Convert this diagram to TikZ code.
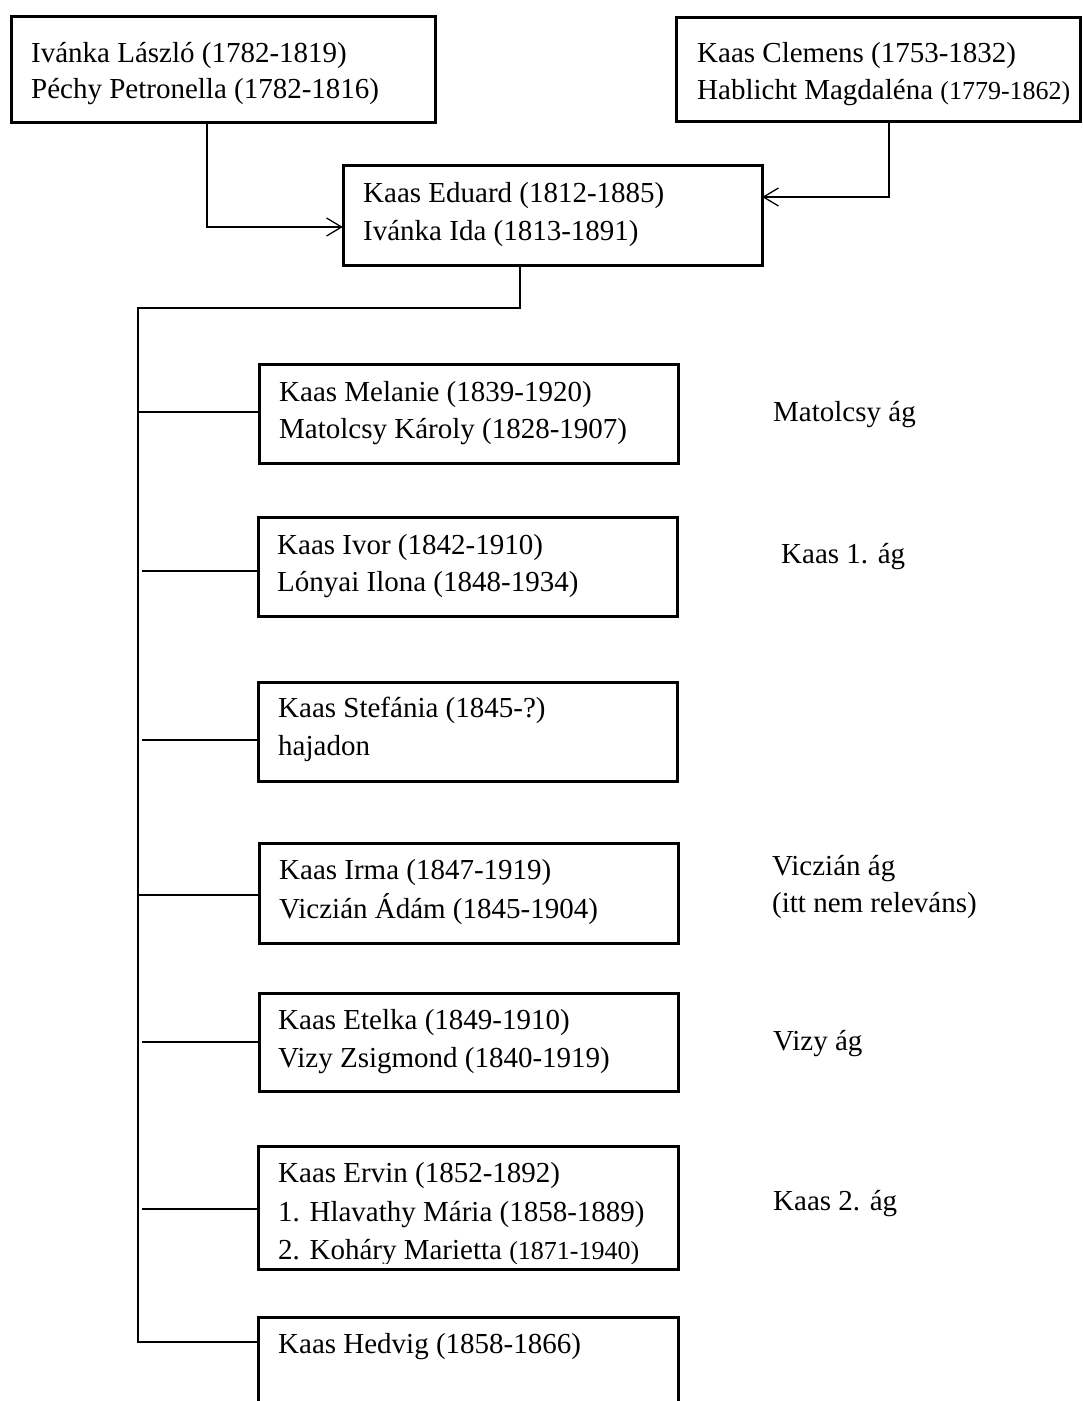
\documentclass[tikz,border=0pt]{standalone}
\usepackage{fontspec}
\setmainfont{Liberation Serif}
\usetikzlibrary{arrows.meta}
\tikzset{
  famibox/.style={draw, line width=3pt},
  conn/.style={line width=1.3pt},
  arr/.style={conn, -{Straight Barb[length=15pt,width=18pt,line width=1.3pt]}},
  txt/.style={anchor=base west, inner sep=0pt, font=\fontsize{29}{37}\selectfont},
}
\newcommand{\yrs}[1]{{\fontsize{26}{37}\selectfont #1}}
\begin{document}
\begin{tikzpicture}[x=1pt,y=-1pt]
\useasboundingbox (0,0) rectangle (1083,1401);
% boxes
\draw[famibox] (11,16) rectangle (435,122);
\node[inner sep=0pt, minimum width=424pt, minimum height=106pt] (ivanka) at (223,69) {};
\draw[famibox] (676,17) rectangle (1080,121);
\node[inner sep=0pt, minimum width=404pt, minimum height=104pt] (kaas) at (878,69) {};
\draw[famibox] (343,165) rectangle (762,265);
\node[inner sep=0pt, minimum width=419pt, minimum height=100pt] (eduard) at (552.5,215) {};
\draw[famibox] (259,364) rectangle (678,463);
\node[inner sep=0pt, minimum width=419pt, minimum height=99pt] (melanie) at (468.5,413.5) {};
\draw[famibox] (258,517) rectangle (677,616);
\node[inner sep=0pt, minimum width=419pt, minimum height=99pt] (ivor) at (467.5,566.5) {};
\draw[famibox] (258,682) rectangle (677,781);
\node[inner sep=0pt, minimum width=419pt, minimum height=99pt] (stefania) at (467.5,731.5) {};
\draw[famibox] (259,843) rectangle (678,943);
\node[inner sep=0pt, minimum width=419pt, minimum height=100pt] (irma) at (468.5,893) {};
\draw[famibox] (259,993) rectangle (678,1091);
\node[inner sep=0pt, minimum width=419pt, minimum height=98pt] (etelka) at (468.5,1042) {};
\draw[famibox] (258,1146) rectangle (678,1269);
\node[inner sep=0pt, minimum width=420pt, minimum height=123pt] (ervin) at (468,1207.5) {};
\draw[famibox] (258,1317) rectangle (678,1430);
\node[inner sep=0pt, minimum width=420pt, minimum height=113pt] (hedvig) at (468,1373.5) {};

% texts
\node[txt] (l1a) at (31,62) {Ivánka László (1782-1819)};
\node[txt] (l1b) at (31,98) {Péchy Petronella (1782-1816)};
\node[txt] (l2a) at (697,62) {Kaas Clemens (1753-1832)};
\node[txt] (l2b) at (697,99) {Hablicht Magdaléna \yrs{(1779-1862)}};
\node[txt] (l3a) at (363,202) {Kaas Eduard (1812-1885)};
\node[txt] (l3b) at (363,240) {Ivánka Ida (1813-1891)};
\node[txt] (l4a) at (279,401) {Kaas Melanie (1839-1920)};
\node[txt] (l4b) at (279,438) {Matolcsy Károly (1828-1907)};
\node[txt] (l5a) at (277,554) {Kaas Ivor (1842-1910)};
\node[txt] (l5b) at (277,591) {Lónyai Ilona (1848-1934)};
\node[txt] (l6a) at (278,717) {Kaas Stefánia (1845-?)};
\node[txt] (l6b) at (278,755) {hajadon};
\node[txt] (l7a) at (279,879) {Kaas Irma (1847-1919)};
\node[txt] (l7b) at (279,918) {Viczián Ádám (1845-1904)};
\node[txt] (l8a) at (278,1029) {Kaas Etelka (1849-1910)};
\node[txt] (l8b) at (278,1067) {Vizy Zsigmond (1840-1919)};
\node[txt] (l9a) at (278,1182) {Kaas Ervin (1852-1892)};
\node[txt] (l9b) at (278,1221) {1. Hlavathy Mária (1858-1889)};
\begin{scope}
\clip (260,1228) rectangle (676,1263);
\node[txt] (l9c) at (278,1259) {2. Koháry Marietta \yrs{(1871-1940)}};
\end{scope}
\node[txt] (l10a) at (278,1353) {Kaas Hedvig (1858-1866)};

% branch labels
\node[txt] (g1) at (773,421) {Matolcsy ág};
\node[txt] (g2) at (781,563) {Kaas 1. ág};
\node[txt] (g3a) at (772,875) {Viczián ág};
\node[txt] (g3b) at (772,912) {(itt nem releváns)};
\node[txt] (g4) at (773,1050) {Vizy ág};
\node[txt] (g5) at (773,1210) {Kaas 2. ág};

% connectors
\coordinate (a1) at (207,227);
\coordinate (a2) at (889,197);
\draw[arr] (ivanka.south -| a1) |- (eduard.west |- a1);
\draw[arr] (kaas.south -| a2) |- (eduard.east |- a2);

\coordinate (t1) at (520,308);
\coordinate (t2) at (138,308);
\coordinate (t3) at (138,1342);
\draw[conn] (eduard.south -| t1) -- (t1) -- (t2) -- (t3) -- (hedvig.west |- t3);

\coordinate (b1) at (138,412);
\coordinate (b2) at (142,571);
\coordinate (b3) at (142,740);
\coordinate (b4) at (138,895);
\coordinate (b5) at (142,1042);
\coordinate (b6) at (142,1209);
\draw[conn] (b1) -- (melanie.west |- b1);
\draw[conn] (b2) -- (ivor.west |- b2);
\draw[conn] (b3) -- (stefania.west |- b3);
\draw[conn] (b4) -- (irma.west |- b4);
\draw[conn] (b5) -- (etelka.west |- b5);
\draw[conn] (b6) -- (ervin.west |- b6);
\end{tikzpicture}
\end{document}
